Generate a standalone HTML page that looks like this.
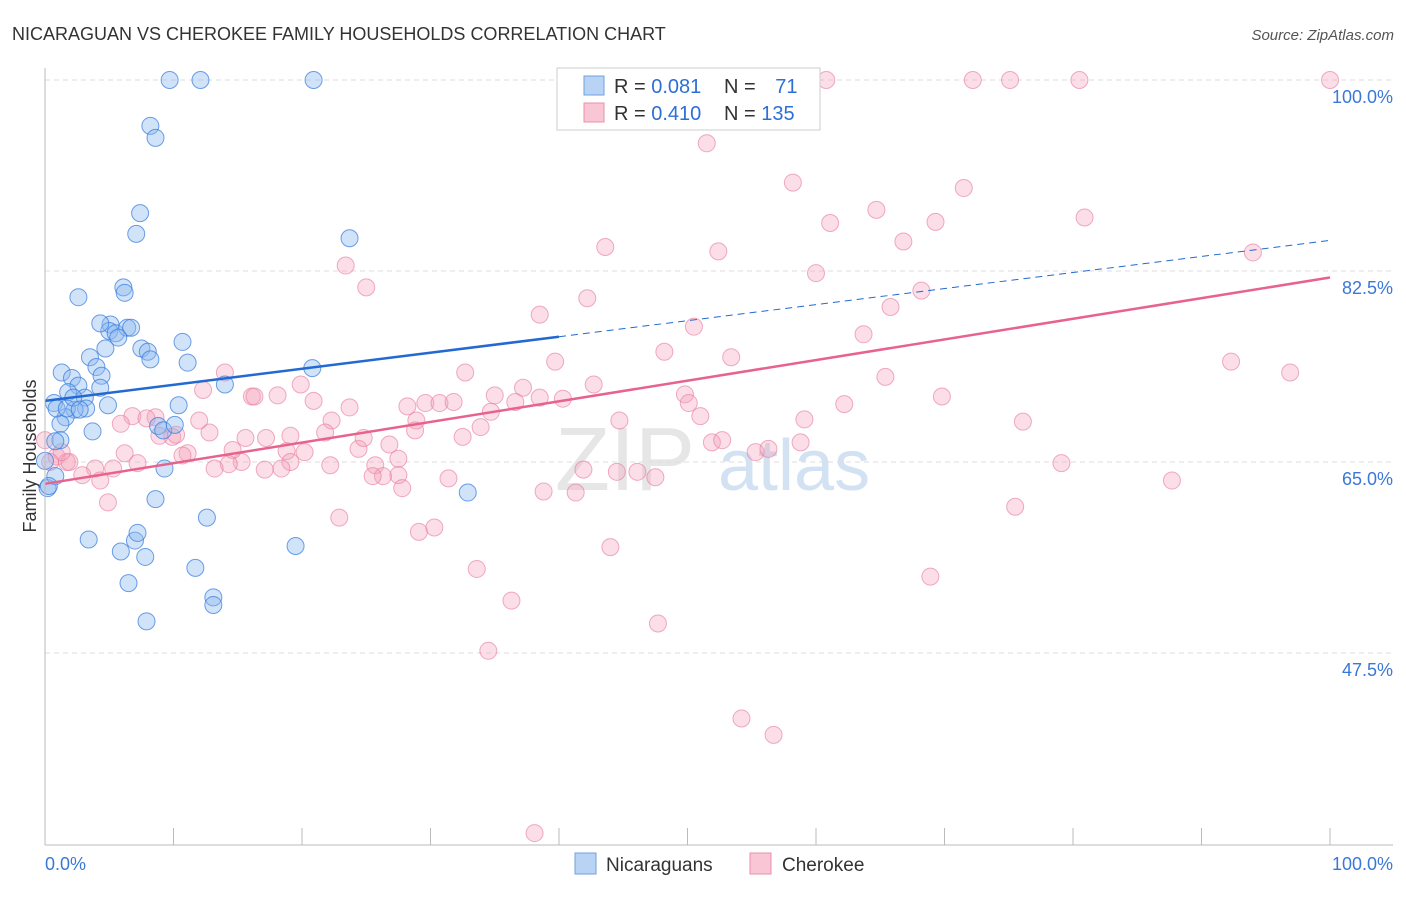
<!DOCTYPE html>
<html><head><meta charset="utf-8"><style>
body{margin:0;background:#fff;font-family:"Liberation Sans",sans-serif}
svg text{font-family:"Liberation Sans",sans-serif}
</style></head><body>
<svg id="chart" width="1406" height="892" viewBox="0 0 1406 892" xmlns="http://www.w3.org/2000/svg">
<text x="12" y="40" font-size="18" fill="#333">NICARAGUAN VS CHEROKEE FAMILY HOUSEHOLDS CORRELATION CHART</text>
<text x="1394" y="40" font-size="15" fill="#555" text-anchor="end" font-style="italic">Source: ZipAtlas.com</text>
<text x="36" y="456" font-size="18" fill="#333" text-anchor="middle" transform="rotate(-90 36 456)">Family Households</text>
<g><text x="555" y="490" font-size="90" fill="#e6e6e6" font-family="Liberation Serif">ZIP</text><text x="718" y="490" font-size="72" fill="#d3e2f3">atlas</text></g>
<g id="grid"></g><g id="pts"></g><g id="trends"></g><g id="axes"></g>
<g>
<rect x="557" y="68" width="263" height="62" fill="#fff" stroke="#ccc"/>
<rect x="584" y="76" width="20" height="19" fill="#b8d3f3" stroke="#6fa1e0"/>
<rect x="584" y="103" width="20" height="19" fill="#f8c6d4" stroke="#ea8fab"/>
<text x="614" y="93" font-size="20" fill="#333">R = <tspan fill="#2d6fd6">0.081</tspan></text>
<text x="724" y="93" font-size="20" fill="#333">N = <tspan fill="#2d6fd6" dx="14">71</tspan></text>
<text x="614" y="120" font-size="20" fill="#333">R = <tspan fill="#2d6fd6">0.410</tspan></text>
<text x="724" y="120" font-size="20" fill="#333">N = <tspan fill="#2d6fd6">135</tspan></text>
</g>
<g>
<rect x="575" y="853" width="21" height="21" fill="#b8d3f3" stroke="#6fa1e0"/>
<text x="606" y="871" font-size="19" fill="#333">Nicaraguans</text>
<rect x="750" y="853" width="21" height="21" fill="#f8c6d4" stroke="#ea8fab"/>
<text x="782" y="871" font-size="19" fill="#333">Cherokee</text>
</g>
</svg>
<script>
const blueX=[9.7,12.1,20.9,8.2,8.6,7.4,7.1,23.7,2.6,6.1,6.2,5.1,5.0,5.5,6.4,6.7,5.7,4.7,7.5,8.0,8.2,10.7,11.1,20.8,3.5,1.3,4.0,2.1,4.4,2.6,4.3,1.8,4.9,0.7,3.1,3.2,2.3,1.6,1.2,3.7,1.2,0.8,0,10.4,8.8,9.2,9.3,14.0,8.6,12.6,3.4,5.9,7.0,7.2,7.8,6.5,11.7,13.1,13.1,7.9,19.5,32.9,0.2,0.8,0.9,1.7,4.3,10.1,2.2,2.7,0.3];
const blueY=[100,100,100,95.8,94.7,87.8,85.9,85.5,80.1,81.0,80.5,77.6,77.0,76.8,77.3,77.3,76.4,75.4,75.4,75.1,74.4,76.0,74.1,73.6,74.6,73.2,73.7,72.7,72.9,72.0,71.8,71.4,70.2,70.4,70.9,69.9,69.8,69.1,68.5,67.8,67.0,66.9,65.1,70.2,68.3,67.9,64.4,72.1,61.6,59.9,57.9,56.8,57.8,58.5,56.3,53.9,55.3,52.6,51.9,50.4,57.3,62.2,62.6,63.7,69.9,69.9,77.7,68.4,70.9,69.8,62.8];
const pinkX=[60.8,72.2,75.1,80.5,100,51.5,58.2,71.5,64.7,80.9,61.1,69.3,66.8,43.6,52.4,94.0,23.4,60.0,25.0,42.2,68.2,38.5,65.8,50.5,63.7,39.7,48.2,53.4,92.3,96.9,65.4,32.7,14.0,42.7,37.2,35.0,36.6,40.3,49.8,50.1,69.8,62.2,59.1,76.1,51.0,44.7,34.7,33.9,32.5,28.9,28.2,29.6,30.7,31.8,23.7,20.9,19.9,18.1,16.1,12.3,8.6,6.8,7.9,5.9,9.9,8.9,10.2,12.8,12.0,22.3,21.8,24.4,22.2,20.2,18.8,19.1,17.1,18.4,15.3,14.6,14.3,13.2,11.1,10.7,7.2,6.2,3.9,2.9,4.3,5.3,0.9,1.7,1.9,4.9,25.7,26.8,27.5,27.5,26.3,25.5,27.8,28.8,31.4,38.8,41.3,41.9,44.5,46.1,47.5,51.9,52.7,55.3,56.3,58.8,79.1,87.7,75.5,29.1,30.3,22.9,44.0,33.6,36.3,47.7,34.5,68.9,54.2,56.7,38.1,1.3,0.4,0,24.8,15.6,17.2,19.1,38.5,16.3];
const pinkY=[100,100,100,100,100,94.2,90.6,90.1,88.1,87.4,86.9,87.0,85.2,84.7,84.3,84.2,83.0,82.3,81.0,80.0,80.7,78.5,79.2,77.4,76.7,74.2,75.1,74.6,74.2,73.2,72.8,73.2,73.2,72.1,71.8,71.1,70.5,70.8,71.2,70.4,71.0,70.3,68.9,68.7,69.2,68.8,69.6,68.2,67.3,68.8,70.1,70.4,70.4,70.5,70.0,70.6,72.1,71.1,71.0,71.6,69.1,69.2,69.0,68.5,67.3,67.4,67.5,67.7,68.8,68.8,67.7,66.2,64.7,65.9,66.0,65.0,64.3,64.4,65.0,66.1,64.8,64.4,65.8,65.6,64.9,65.8,64.4,63.8,63.3,64.4,65.5,65.0,65.0,61.3,64.7,66.6,65.3,63.8,63.7,63.7,62.6,67.9,63.5,62.3,62.2,64.3,64.1,64.1,63.6,66.8,67.0,65.9,66.2,66.8,64.9,63.3,60.9,58.6,59.0,59.9,57.2,55.2,52.3,50.2,47.7,54.5,41.5,40.0,31.0,65.9,65.0,67.0,67.2,67.2,67.2,67.4,70.9,71.0];
const yTicks=[100,82.5,65,47.5];
const yTickLabels=["100.0%","82.5%","65.0%","47.5%"];
const xTicks=[0,10,20,30,40,50,60,70,80,90,100];
const blueTrend=[70.6,85.3];
const pinkTrend=[63.0,81.9];
const X=v=>45+v*12.85, Y=v=>80+(100-v)*10.914;
const NS="http://www.w3.org/2000/svg";
function mk(p,tag,a){const e=document.createElementNS(NS,tag);for(const k in a)e.setAttribute(k,a[k]);document.getElementById(p).appendChild(e);return e;}
yTicks.forEach((t,i)=>{
 const l=mk('grid','line',{x1:45,x2:1393,y1:Y(t),y2:Y(t),stroke:'#ddd','stroke-dasharray':'5,4'});
 
 
 const tx=mk('axes','text',{x:1393,y:Y(t)+23,'font-size':18,fill:'#3a78d8','text-anchor':'end'});
 tx.textContent=yTickLabels[i];
 
 
});
const ax=mk('axes','line',{x1:45,x2:1393,y1:845,y2:845,stroke:'#bbb'});


const ay=mk('axes','line',{x1:45,x2:45,y1:68,y2:845,stroke:'#bbb'});


xTicks.forEach(t=>{const l=mk('axes','line',{x1:X(t),x2:X(t),y1:828,y2:845,stroke:'#bbb'});
 
 });
const x0=mk('axes','text',{x:45,y:870,'font-size':18,fill:'#3a78d8'});x0.textContent='0.0%';


const x1=mk('axes','text',{x:1393,y:870,'font-size':18,fill:'#3a78d8','text-anchor':'end'});x1.textContent='100.0%';


pinkX.forEach((x,i)=>{const c=mk('pts','circle',{cx:X(x),cy:Y(pinkY[i]),r:8.5,fill:'rgba(244,160,186,0.35)',stroke:'rgba(230,120,155,0.6)','stroke-width':1});
 
 });
blueX.forEach((x,i)=>{const c=mk('pts','circle',{cx:X(x),cy:Y(blueY[i]),r:8.5,fill:'rgba(140,185,240,0.4)',stroke:'rgba(50,120,220,0.7)','stroke-width':1});
 
 });
const bAt=v=>blueTrend[0]+(blueTrend[1]-blueTrend[0])*v/100;
const b1=mk('trends','line',{x1:X(0),y1:Y(bAt(0)),x2:X(40),y2:Y(bAt(40)),stroke:'#2269d2','stroke-width':2.5});


const b2=mk('trends','line',{x1:X(40),y1:Y(bAt(40)),x2:X(100),y2:Y(bAt(100)),stroke:'#2269d2','stroke-width':1,'stroke-dasharray':'7,5'});


const p1=mk('trends','line',{x1:X(0),y1:Y(pinkTrend[0]),x2:X(100),y2:Y(pinkTrend[1]),stroke:'#e8628e','stroke-width':2.5});


</script>
</body></html>
